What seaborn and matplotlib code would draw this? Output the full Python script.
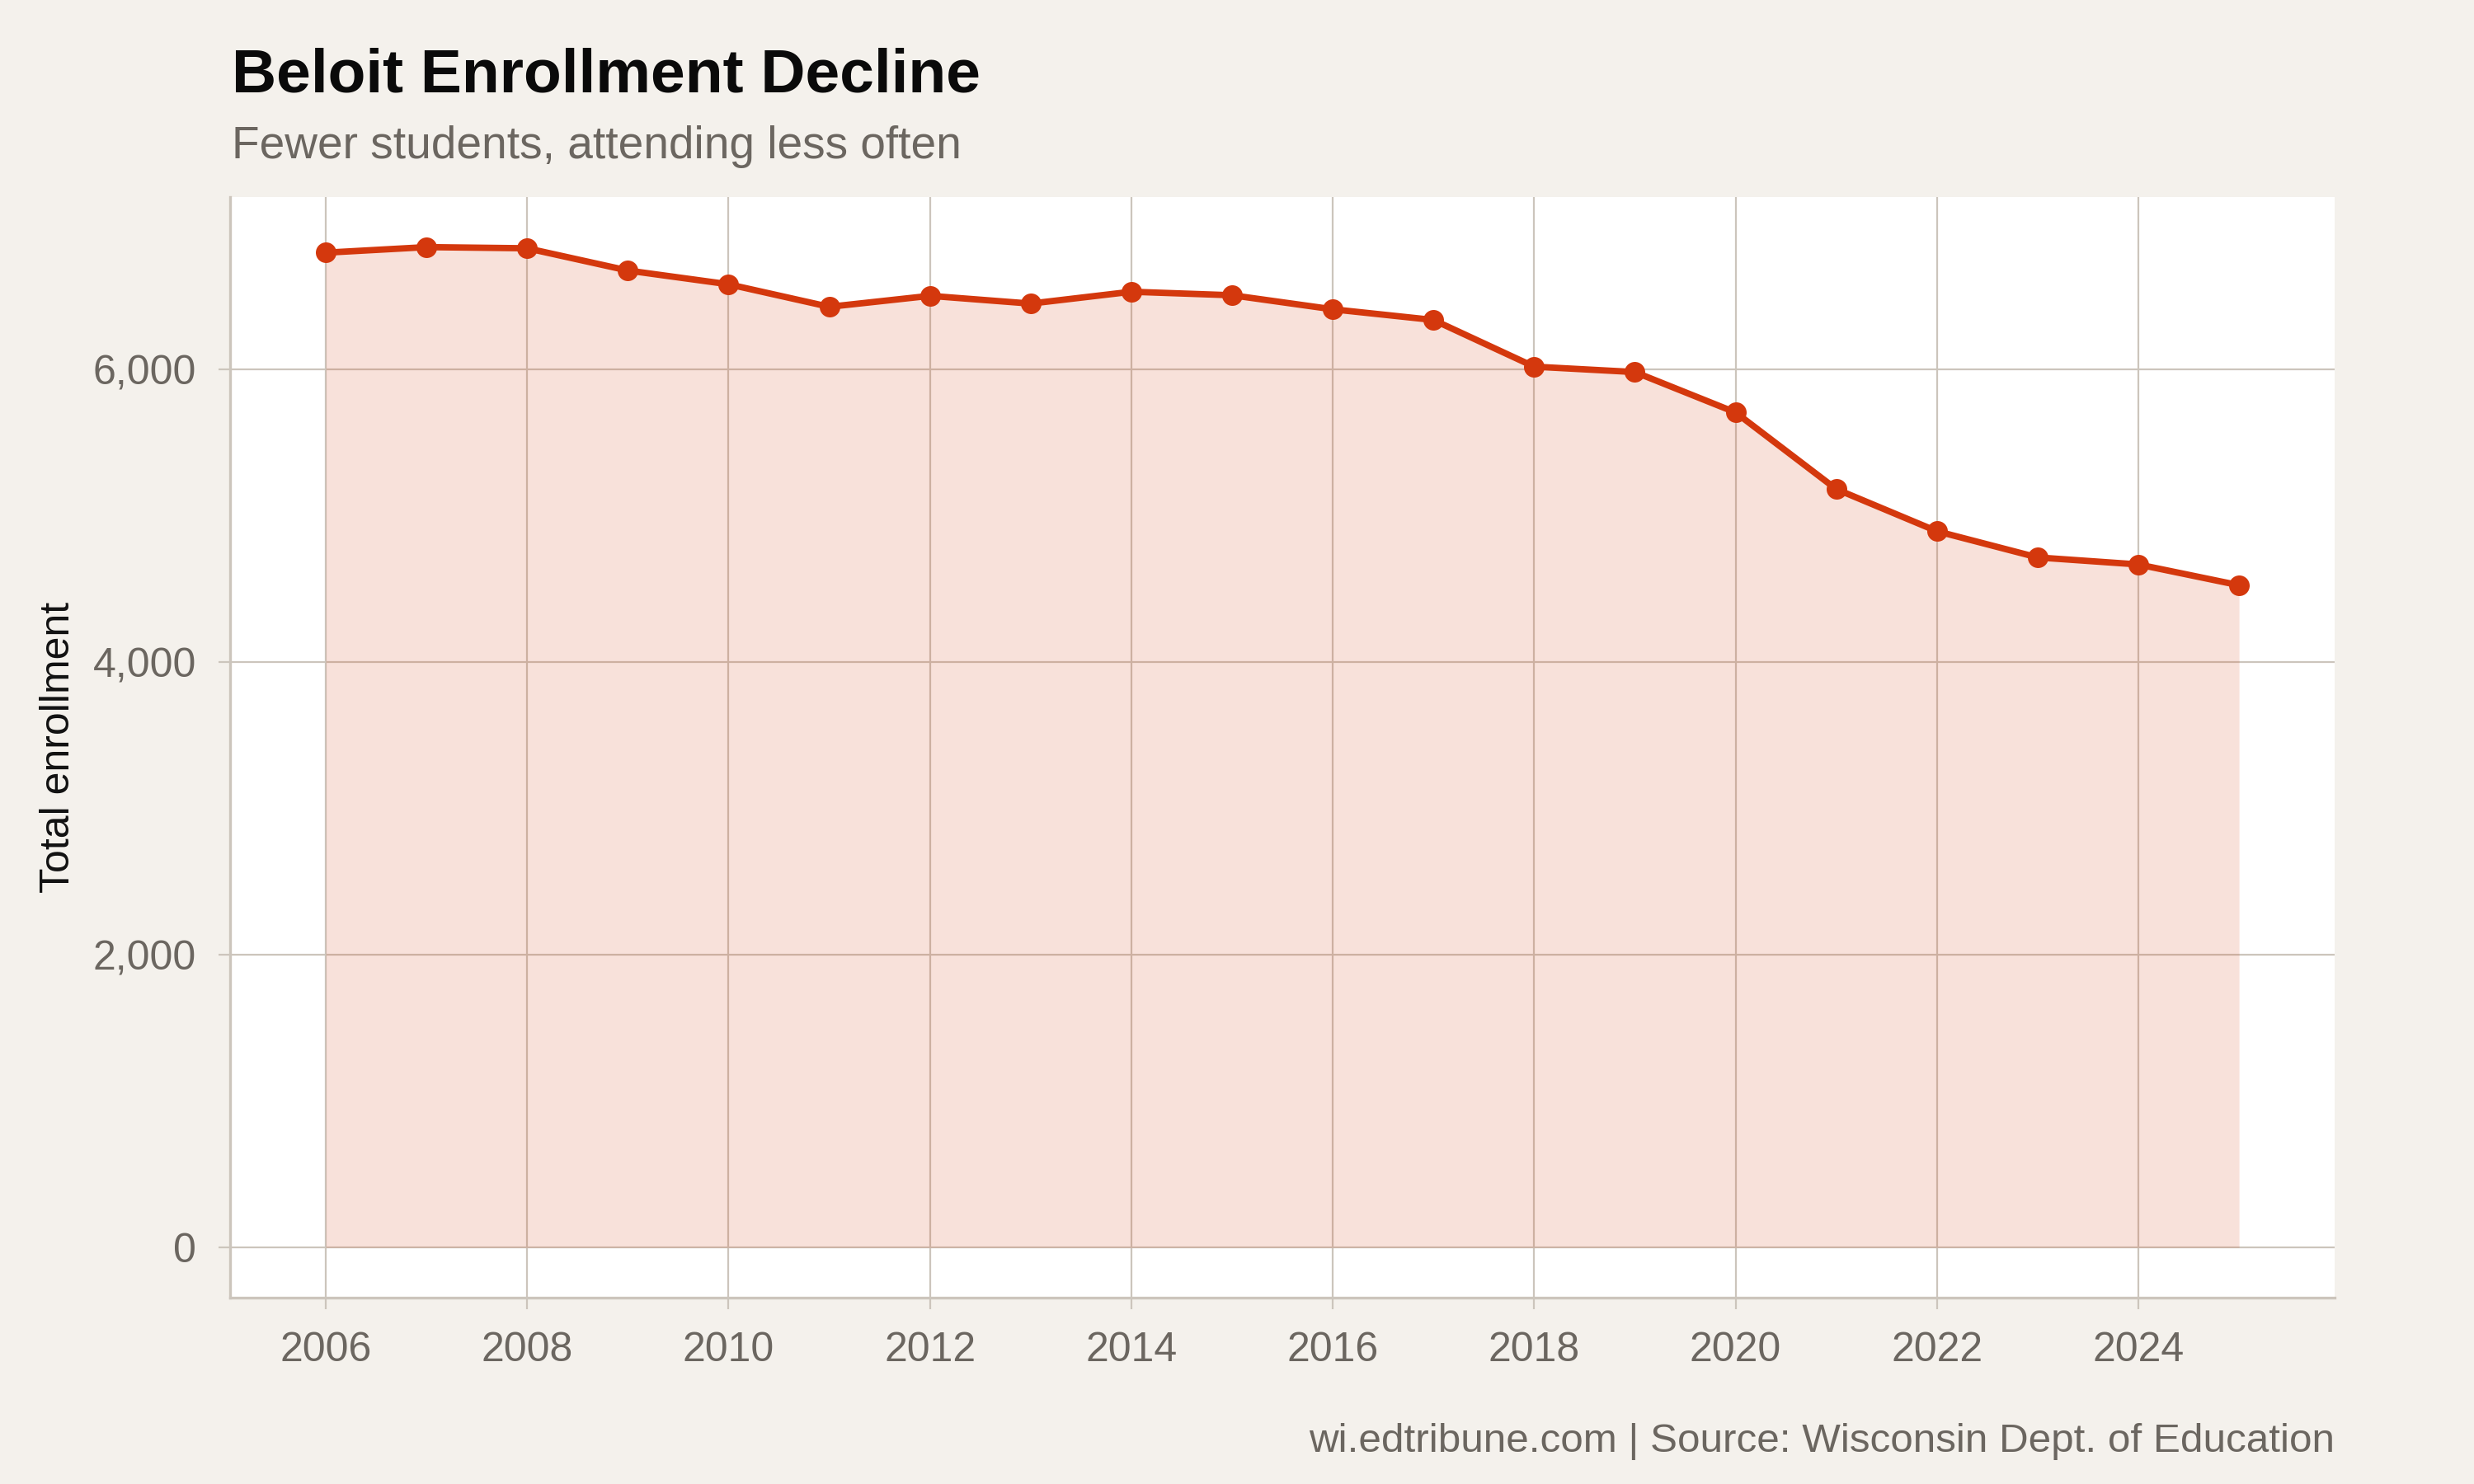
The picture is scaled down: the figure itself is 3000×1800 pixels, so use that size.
import numpy as np
import pandas as pd
import matplotlib
matplotlib.use('Agg')
import matplotlib.pyplot as plt
import matplotlib.ticker as mticker
import seaborn as sns

# data
years = [2006, 2007, 2008, 2009, 2010, 2011, 2012, 2013, 2014, 2015,
         2016, 2017, 2018, 2019, 2020, 2021, 2022, 2023, 2024, 2025]
enrollment = [6800, 6838, 6830, 6678, 6584, 6430, 6505, 6452, 6533, 6509,
              6413, 6340, 6021, 5984, 5708, 5184, 4896, 4717, 4669, 4527]
x_ticks = [2006, 2008, 2010, 2012, 2014, 2016, 2018, 2020, 2022, 2024]
y_ticks = [0, 2000, 4000, 6000]

title = 'Beloit Enrollment Decline'
subtitle = 'Fewer students, attending less often'
caption = 'wi.edtribune.com | Source: Wisconsin Dept. of Education'
y_label = 'Total enrollment'

df = pd.DataFrame({'year': years, 'enrollment': enrollment})

#%% style
bg = '#F4F1EC'
grid_col = '#CCC5BC'
line_col = '#D4380D'
text_gray = '#6B6660'

sns.set_theme(style='whitegrid')
plt.rcParams['font.family'] = ['Liberation Sans', 'DejaVu Sans']

fig = plt.figure(figsize=(15, 9), dpi=200, facecolor=bg)
ax = fig.add_axes([0.093, 0.1256, 0.8507, 0.7416])
ax.set_facecolor('white')

ax.fill_between(df['year'], 0, df['enrollment'], color=line_col, alpha=0.15,
                linewidth=0, zorder=2)
sns.lineplot(data=df, x='year', y='enrollment', ax=ax, color=line_col,
             linewidth=2.8, marker='o', markersize=9, markeredgewidth=0,
             zorder=3)

ax.set_xlim(2005.05, 2025.95)
ax.set_ylim(-342, 7180)
ax.set_xticks(x_ticks)
ax.set_yticks(y_ticks)
ax.yaxis.set_major_formatter(mticker.StrMethodFormatter('{x:,.0f}'))

ax.grid(True, color=grid_col, linewidth=0.8, zorder=1)
ax.set_axisbelow(True)
for side in ['top', 'right']:
    ax.spines[side].set_visible(False)
for side in ['left', 'bottom']:
    ax.spines[side].set_visible(True)
    ax.spines[side].set_color(grid_col)
    ax.spines[side].set_linewidth(1.2)

ax.tick_params(axis='both', which='major', length=5.2, width=0.8,
               color=grid_col, labelsize=18, labelcolor=text_gray, pad=9.5,
               bottom=True, left=True)

ax.set_xlabel('')
ax.set_ylabel(y_label, fontsize=18, color='#111111')
ax.yaxis.set_label_coords(-0.0815, 0.5)
ax.yaxis.label.set_verticalalignment('center')

fig.text(0.0937, 1 - 112 / 1800, title, fontsize=27, fontweight='bold',
         color='#0A0A0A', ha='left', va='baseline')
fig.text(0.0937, 1 - 192 / 1800, subtitle, fontsize=19.8, color=text_gray,
         ha='left', va='baseline')
fig.text(0.9437, 1 - 1761 / 1800, caption, fontsize=17.8, color=text_gray,
         ha='right', va='baseline')

plt.savefig('out.png', dpi=200, facecolor=bg)
